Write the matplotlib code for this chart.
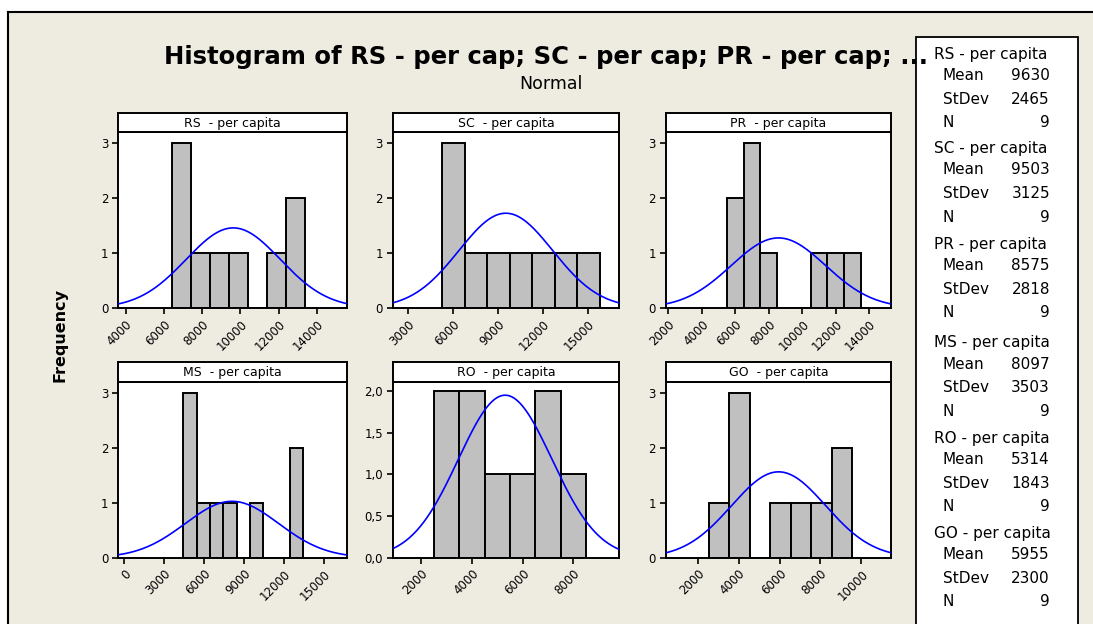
import numpy as np
import matplotlib
matplotlib.use("Agg")
import matplotlib.pyplot as plt
from matplotlib.patches import Rectangle
from matplotlib.lines import Line2D

W, H = 1093, 624

# ---------------- data ----------------
strip_titles = ["RS  - per capita", "SC  - per capita", "PR  - per capita",
                "MS  - per capita", "RO  - per capita", "GO  - per capita"]
legend_titles = ["RS - per capita", "SC - per capita", "PR - per capita",
                 "MS - per capita", "RO - per capita", "GO - per capita"]
means = [9630, 9503, 8575, 8097, 5314, 5955]
stdevs = [2465, 3125, 2818, 3503, 1843, 2300]
n_obs = [9, 9, 9, 9, 9, 9]

rs_centers = [6900, 7900, 8900, 9900, 10900, 11900, 12900]
rs_counts = [3, 1, 1, 1, 0, 1, 2]
sc_centers = [6000, 7500, 9000, 10500, 12000, 13500, 15000]
sc_counts = [3, 1, 1, 1, 1, 1, 1]
pr_centers = [6000, 7000, 8000, 9000, 10000, 11000, 12000, 13000]
pr_counts = [2, 3, 1, 0, 0, 1, 1, 1]
ms_centers = [4950, 5950, 6950, 7950, 8950, 9950, 10950, 11950, 12950]
ms_counts = [3, 1, 1, 1, 0, 1, 0, 0, 2]
ro_centers = [3000, 4000, 5000, 6000, 7000, 8000]
ro_counts = [2, 2, 1, 1, 2, 1]
go_centers = [3050, 4050, 5050, 6050, 7050, 8050, 9050]
go_counts = [1, 3, 0, 1, 1, 1, 2]

centers_all = [rs_centers, sc_centers, pr_centers, ms_centers, ro_centers, go_centers]
counts_all = [rs_counts, sc_counts, pr_counts, ms_counts, ro_counts, go_counts]

xticks_all = [[4000, 6000, 8000, 10000, 12000, 14000],
              [3000, 6000, 9000, 12000, 15000],
              [2000, 4000, 6000, 8000, 10000, 12000, 14000],
              [0, 3000, 6000, 9000, 12000, 15000],
              [2000, 4000, 6000, 8000],
              [2000, 4000, 6000, 8000, 10000]]
xlims = [(3600, 15585), (1960, 17070), (1840, 15300),
         (-450, 16725), (880, 9815), (436, 11450)]
yticks_counts = [0, 1, 2, 3]
ytick_labels_counts = ["0", "1", "2", "3"]
yticks_ro = [0, 0.5, 1.0, 1.5, 2.0]
ytick_labels_ro = ["0,0", "0,5", "1,0", "1,5", "2,0"]

# ---------------- style ----------------
BEIGE = "#EEEBE1"
BAR = "#C0C0C0"
FONT = "DejaVu Sans"
plt.rcParams["font.family"] = FONT

fig = plt.figure(figsize=(W / 100, H / 100), dpi=100)
fig.patch.set_facecolor("white")

def fx(x):
    return x / W

def fy(y):
    return 1 - y / H

# beige background with left/top border
fig.patches.append(Rectangle((fx(8), 0), 1 - fx(8), fy(11.5), transform=fig.transFigure,
                             facecolor=BEIGE, edgecolor="none", zorder=-5))
fig.lines.append(Line2D([fx(8), fx(8)], [0, fy(11.5)], transform=fig.transFigure,
                        color="black", lw=1.5, zorder=-4))
fig.lines.append(Line2D([fx(8), 1], [fy(11.5), fy(11.5)], transform=fig.transFigure,
                        color="black", lw=1.5, zorder=-4))

cols = [(118, 347), (392.7, 619.3), (665.7, 891)]
rows_plot = [(132, 308), (381.7, 557.7)]
rows_strip = [(113, 132), (361.7, 381.7)]

for i in range(6):
    r, c = divmod(i, 3)
    x0, x1 = cols[c]
    y0, y1 = rows_plot[r]
    ax = fig.add_axes([fx(x0), fy(y1), fx(x1) - fx(x0), fy(y0) - fy(y1)])
    ax.set_facecolor("white")
    cen = np.array(centers_all[i], dtype=float)
    cnt = np.array(counts_all[i], dtype=float)
    bw = cen[1] - cen[0]
    ax.bar(cen, cnt, width=bw, color=BAR, edgecolor="black", linewidth=1.4, zorder=2)
    lo, hi = xlims[i]
    xs = np.linspace(lo, hi, 400)
    ys = n_obs[i] * bw * np.exp(-0.5 * ((xs - means[i]) / stdevs[i]) ** 2) / (stdevs[i] * np.sqrt(2 * np.pi))
    ax.plot(xs, ys, color="#0000FF", lw=1.2, zorder=3)
    ax.set_xlim(lo, hi)
    if i == 4:
        ax.set_ylim(0, 2.11)
        ax.set_yticks(yticks_ro)
        ax.set_yticklabels(ytick_labels_ro)
    else:
        ax.set_ylim(0, 3.2)
        ax.set_yticks(yticks_counts)
        ax.set_yticklabels(ytick_labels_counts)
    ax.set_xticks(xticks_all[i])
    ax.set_xticklabels([str(v) for v in xticks_all[i]], rotation=45, ha="right",
                       rotation_mode="anchor")
    ax.tick_params(axis="both", labelsize=8.5, length=4, width=1.2, color="black",
                   pad=3)
    for sp in ax.spines.values():
        sp.set_linewidth(1.4)
        sp.set_color("black")
    # strip
    sy0, sy1 = rows_strip[r]
    sax = fig.add_axes([fx(x0), fy(sy1), fx(x1) - fx(x0), fy(sy0) - fy(sy1)])
    sax.set_facecolor("white")
    sax.set_xticks([])
    sax.set_yticks([])
    for sp in sax.spines.values():
        sp.set_linewidth(1.4)
        sp.set_color("black")
    sax.text(0.5, 0.45, strip_titles[i], ha="center", va="center", fontsize=9,
             transform=sax.transAxes)

# legend box
fig.patches.append(Rectangle((fx(916), fy(630)), fx(1078) - fx(916), fy(37) - fy(630),
                             transform=fig.transFigure, facecolor="white",
                             edgecolor="black", lw=1.3, zorder=1))
group_tops = [54, 148.5, 244.3, 342.7, 438.3, 533.3]
for g in range(6):
    yh = group_tops[g]
    fig.text(fx(934), fy(yh), legend_titles[g], ha="left", va="center", fontsize=11, zorder=5)
    rows = [("Mean", str(means[g])), ("StDev", str(stdevs[g])), ("N", str(n_obs[g]))]
    for k, (lab, val) in enumerate(rows):
        yy = yh + 21.5 + 23.5 * k
        fig.text(fx(943), fy(yy), lab, ha="left", va="center", fontsize=11, zorder=5)
        fig.text(fx(1050), fy(yy), val, ha="right", va="center", fontsize=11, zorder=5)

# titles
fig.text(fx(546), fy(57), "Histogram of RS - per cap; SC - per cap; PR - per cap; ...",
         ha="center", va="center", fontsize=17.5, fontweight="bold", zorder=6)
fig.text(fx(551), fy(84), "Normal", ha="center", va="center", fontsize=12.5)
fig.text(fx(60), fy(335), "Frequency", ha="center", va="center", rotation=90,
         fontsize=11.5, fontweight="bold")

fig.savefig("out.png", dpi=100, facecolor=fig.get_facecolor())
